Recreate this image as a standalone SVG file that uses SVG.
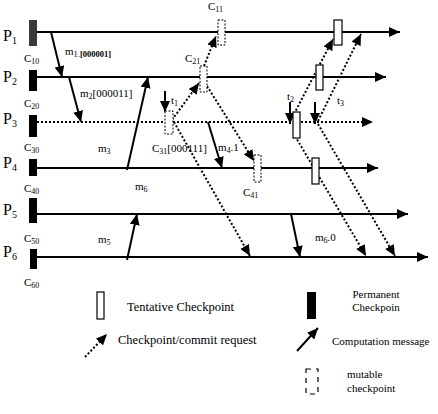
<svg xmlns="http://www.w3.org/2000/svg" width="438" height="414" viewBox="0 0 438 414">
<defs>
<marker id="ah" markerUnits="userSpaceOnUse" markerWidth="11" markerHeight="10" refX="11" refY="5" orient="auto">
<path d="M0,0 L11,5 L0,10 z" fill="#000"/>
</marker>
<style>
text{font-family:"Liberation Serif","Times New Roman",serif;fill:#000}
.pl{font-size:16px}
.lb{font-size:11px}
.lg{font-size:12.5px}
.sub{font-size:8px}
.proc{stroke:#000;stroke-width:1.8;fill:none}
.procd{stroke:#000;stroke-width:2;stroke-dasharray:2 2;fill:none}
.perm{fill:#000;stroke:none}
.tent{fill:#fff;stroke:#000;stroke-width:1.2}
.mut{fill:#fff;stroke:#000;stroke-width:1;stroke-dasharray:2 1.5}
.msg{stroke:#000;stroke-width:2;fill:none;marker-end:url(#ah)}
.req{stroke:#000;stroke-width:2;stroke-dasharray:2 2;fill:none;marker-end:url(#ah)}
</style>
</defs>
<rect width="438" height="414" fill="#fff"/>

<!-- processes -->
<g id="P1">
<text class="pl" x="3" y="41">P<tspan font-size="10" dy="3">1</tspan></text>
<line class="proc" x1="37" y1="32" x2="400" y2="32" marker-end="url(#ah)"/>
<rect x="29" y="20" width="8" height="26" fill="#3a3a3a"/>
</g>
<g id="P2">
<text class="pl" x="3" y="82">P<tspan font-size="10" dy="3">2</tspan></text>
<line class="proc" x1="37" y1="77" x2="386" y2="77" marker-end="url(#ah)"/>
<rect class="perm" x="29" y="70" width="8" height="21"/>
<text class="lb" x="24" y="62">C<tspan class="sub" dy="2">10</tspan></text>
</g>
<g id="P3">
<text class="pl" x="3" y="124">P<tspan font-size="10" dy="3">3</tspan></text>
<line class="procd" x1="37" y1="122" x2="373" y2="122" marker-end="url(#ah)"/>
<rect class="perm" x="29" y="115" width="8" height="22"/>
<text class="lb" x="24" y="107">C<tspan class="sub" dy="2">20</tspan></text>
</g>
<g id="P4">
<text class="pl" x="3" y="168">P<tspan font-size="10" dy="3">4</tspan></text>
<line class="proc" x1="37" y1="168" x2="378" y2="168" marker-end="url(#ah)"/>
<rect class="perm" x="29" y="159" width="8" height="17"/>
<text class="lb" x="24" y="151">C<tspan class="sub" dy="2">30</tspan></text>
</g>
<g id="P5">
<text class="pl" x="3" y="215">P<tspan font-size="10" dy="3">5</tspan></text>
<line class="proc" x1="37" y1="214" x2="408" y2="214" marker-end="url(#ah)"/>
<rect class="perm" x="29" y="198" width="8" height="25"/>
<text class="lb" x="24" y="192">C<tspan class="sub" dy="2">40</tspan></text>
</g>
<g id="P6">
<text class="pl" x="3" y="257">P<tspan font-size="10" dy="3">6</tspan></text>
<line class="proc" x1="37" y1="257" x2="428" y2="257" marker-end="url(#ah)"/>
<rect class="perm" x="30" y="249" width="7" height="20"/>
<text class="lb" x="24" y="242">C<tspan class="sub" dy="2">50</tspan></text>
<text class="lb" x="24" y="286">C<tspan class="sub" dy="2">60</tspan></text>
</g>

<!-- connectors -->
<g id="connectors">
<line class="msg" x1="51" y1="32" x2="62" y2="77"/>
<line class="msg" x1="69" y1="77" x2="81" y2="122"/>
<line class="msg" x1="127" y1="170" x2="148" y2="77"/>
<line class="msg" x1="208" y1="122" x2="222" y2="168"/>
<line class="msg" x1="127" y1="260" x2="137" y2="214"/>
<line class="msg" x1="291" y1="214" x2="300" y2="257"/>
<line class="msg" x1="165" y1="91" x2="165" y2="112"/>
<line class="msg" x1="290" y1="102" x2="290" y2="124"/>
<line class="msg" x1="315" y1="102" x2="315" y2="124"/>
<line class="req" x1="172" y1="120" x2="199" y2="83"/>
<line class="req" x1="204" y1="66" x2="216" y2="36"/>
<line class="req" x1="207" y1="86" x2="254" y2="161"/>
<line class="req" x1="174" y1="122" x2="250" y2="256"/>
<line class="req" x1="294" y1="114" x2="333" y2="39"/>
<line class="req" x1="318" y1="121" x2="361" y2="34"/>
<line class="req" x1="295" y1="136" x2="366" y2="256"/>
<line class="req" x1="318" y1="124" x2="395" y2="256"/>
</g>

<!-- checkpoints -->
<g id="C11"><rect class="mut" x="218" y="20" width="7" height="25"/><text class="lb" x="208" y="10">C<tspan class="sub" dy="2">11</tspan></text></g>
<g id="C21"><rect class="mut" x="200" y="66" width="7" height="26"/><text class="lb" x="185" y="62">C<tspan class="sub" dy="2">21</tspan></text></g>
<g id="t1"><rect class="mut" x="165" y="111" width="8" height="23"/><text class="lb" x="171" y="104">t<tspan class="sub" dy="2">1</tspan></text></g>
<g id="C31"><text class="lb" x="152" y="152">C<tspan class="sub" dy="2">31</tspan><tspan dy="-2">[000111]</tspan></text></g>
<g id="C41"><rect class="mut" x="254" y="155" width="7" height="27"/><text class="lb" x="243" y="196">C<tspan class="sub" dy="2">41</tspan></text></g>
<g id="T1"><rect class="tent" x="334" y="20" width="8" height="25"/></g>
<g id="T2"><rect class="tent" x="316" y="65" width="7" height="25"/></g>
<g id="T3"><rect class="tent" x="293" y="112" width="7" height="26"/></g>
<g id="T4"><rect class="tent" x="312" y="158" width="7" height="26"/></g>
<g id="t2"><text class="lb" x="287" y="100">t<tspan class="sub" dy="2">2</tspan></text></g>
<g id="t3"><text class="lb" x="337" y="104">t<tspan class="sub" dy="2">3</tspan></text></g>

<!-- message labels -->
<text class="lb" x="65" y="55">m<tspan font-size="8.5" dy="2">1.</tspan><tspan font-size="8.5" font-weight="bold">[000001]</tspan></text>
<text class="lb" x="80" y="97">m<tspan class="sub" dy="2">2</tspan><tspan dy="-2">[000011]</tspan></text>
<text class="lb" x="98" y="152">m<tspan class="sub" dy="2">3</tspan></text>
<text class="lb" x="218" y="151">m<tspan class="sub" dy="2">4</tspan><tspan dy="-2">.1</tspan></text>
<text class="lb" x="98" y="243">m<tspan class="sub" dy="2">5</tspan></text>
<text class="lb" x="135" y="190">m<tspan class="sub" dy="2">6</tspan></text>
<text class="lb" x="315" y="241">m<tspan class="sub" dy="2">6</tspan><tspan dy="-2">.0</tspan></text>

<!-- legend -->
<g id="legend">
<rect class="tent" x="97" y="292" width="7" height="27"/>
<text class="lg" x="127" y="311">Tentative Checkpoint</text>
<rect class="perm" x="307" y="292" width="9" height="27"/>
<text class="lb" x="376" y="298" text-anchor="middle">Permanent</text>
<text class="lb" x="376" y="311" text-anchor="middle">Checkpoin</text>
<line class="req" x1="85" y1="357" x2="107" y2="334"/>
<text class="lg" x="118" y="344">Checkpoint/commit request</text>
<line class="msg" x1="297" y1="351" x2="318" y2="328"/>
<text class="lb" x="332" y="345">Computation message</text>
<rect x="306" y="369" width="12" height="25" fill="none" stroke="#000" stroke-width="1.2" stroke-dasharray="5 5"/>
<text class="lb" x="347" y="378">mutable</text>
<text class="lb" x="347" y="392">checkpoint</text>
</g>
</svg>
